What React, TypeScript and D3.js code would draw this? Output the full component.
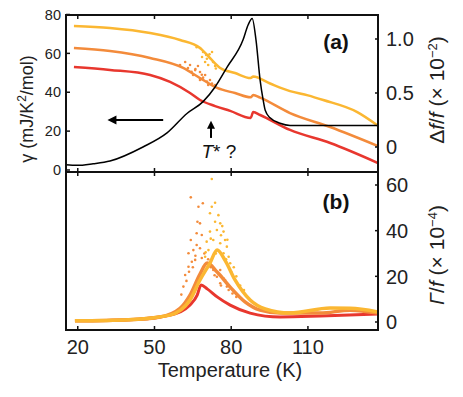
import React, { useEffect, useRef } from "react";
import * as d3 from "d3";

type Pt = [number, number];

// x axis
const xTicks = [20, 50, 80, 110];
// panel (a) left axis: gamma (mJ/K^2/mol)
const gammaTicks = [0, 20, 40, 60, 80];
// panel (a) right axis: delta f / f (x 10^-2)
const dfTicks = [0, 0.5, 1.0];
const dfTickLabels = ["0", "0.5", "1.0"];
// panel (b) right axis: Gamma / f (x 10^-4)
const gTicks = [0, 20, 40, 60];

// gamma(T) curves, three samples
const gammaYellow: Pt[] = [
  [18.5, 74.1], [32.6, 73.1], [48.3, 70.5], [60, 66.9], [67.8, 62.8], [71.7, 57.6],
  [75.7, 52.5], [81.5, 49.9], [87.6, 47.3], [88.6, 48.1], [95.2, 44.5], [103, 40.6],
  [110, 38.4], [116, 36], [129.3, 29.8], [137.4, 22.8],
];
const gammaOrange: Pt[] = [
  [18.5, 62.8], [32.6, 61.2], [48.3, 57.6], [61.2, 52.5], [67.8, 47.3], [74.5, 42.2],
  [81.5, 39.6], [87.6, 37.4], [88.6, 38.6], [91.3, 37.2], [103, 29.3], [118.7, 22.1],
  [137.4, 12.3],
];
const gammaRed: Pt[] = [
  [18.5, 53], [32.6, 51.5], [48.3, 48.9], [56.1, 45.3], [63.9, 39.6], [67.8, 36],
  [73.7, 32.9], [79.6, 30.4], [87.6, 26.8], [88.6, 29.8], [91.3, 28.3], [103, 20.6],
  [118.7, 13.9], [137.4, 3.6],
];
// noisy points around the transition in panel (a)
const gammaYellowDots: Pt[] = [
  [67.8, 62.8], [69, 60.7], [70.2, 59.2], [71.7, 57.6], [72.9, 55.6], [69.8, 55.6],
  [71, 54], [73.7, 53.5], [68.6, 58.1], [72.5, 60.7], [66.5, 63.2], [70.5, 57.2],
  [74, 52.2], [71.5, 59.5],
];
const gammaOrangeDots: Pt[] = [
  [62, 55.6], [63.9, 54], [65.9, 51.4], [67.8, 50.4], [69.8, 48.9], [71.7, 46.3],
  [65.1, 48.9], [67.8, 46.3], [71, 43.7], [63.1, 52.5], [73.7, 43.7], [67, 53.5],
  [60, 54], [64.5, 50.5], [66, 52], [68.5, 49], [70.5, 45.5], [72.5, 44.5], [69, 47.5],
];
// delta f / f
const dfBlack: Pt[] = [
  [15.4, -0.165], [19.7, -0.17], [26, -0.155], [32.6, -0.13], [45.5, 0], [54.9, 0.13],
  [62.7, 0.31], [69, 0.42], [73.7, 0.556], [78.4, 0.74], [84.6, 0.99], [86.6, 1.13],
  [88.2, 1.19], [89.7, 0.99], [91.3, 0.62], [92.5, 0.435], [93.3, 0.34], [95.2, 0.27],
  [99.1, 0.22], [103, 0.2], [137.4, 0.2],
];
// Gamma / f curves
const gYellow: Pt[] = [
  [18.9, 0.5], [40, 1], [56.1, 3], [63.9, 9.6], [67.8, 18.4], [71.7, 25.8], [74.5, 31.5],
  [77.6, 27], [81.5, 18.4], [87.4, 9.6], [93.3, 5.7], [103, 3.9], [118.7, 6.1], [126.5, 6],
  [137.4, 4.4],
];
const gOrange: Pt[] = [
  [18.9, 0.5], [40, 1], [52.2, 2.2], [60, 6], [63.9, 11.8], [67.8, 21], [70.6, 25.8],
  [74.5, 21.9], [79.6, 15.3], [85.4, 8.8], [91.3, 5.2], [99.1, 3.9], [114.8, 3.9],
  [126.5, 5.2], [137.4, 3.9],
];
const gRed: Pt[] = [
  [18.9, 0.5], [40, 1], [52.2, 2.2], [60, 4.4], [63.9, 7.4], [66.7, 11.8], [68.2, 16.2],
  [70.6, 14.5], [74.5, 11], [79.6, 7.4], [87.4, 3.9], [99.1, 2.2], [114.8, 2.6],
  [137.4, 3.5],
];
const gOrangeDots: Pt[] = [
  [64.2, 54.6], [67.2, 50.5], [68.9, 52], [66.8, 43.9], [67.8, 43.2], [64.2, 35.9],
  [66.5, 38.9], [68.5, 38.1], [63.3, 30.1], [65.2, 31.5], [66.5, 33.7], [67.8, 32.3],
  [63.3, 24.2], [64.6, 26.4], [65.9, 27.2], [74.4, 19.8], [75.7, 22.8], [77, 19.1],
  [73, 22.8], [62, 20.6], [61.3, 15.5], [75.7, 17], [78.3, 15.5], [77.6, 18.4],
  [62.5, 18], [63.5, 22], [65, 24], [66, 29], [68.5, 28], [69.5, 30], [71, 27.5],
  [72, 24], [73.5, 20.5], [76, 16], [79, 14], [80.5, 12.5], [82, 11], [60.5, 12],
];
const gYellowDots: Pt[] = [
  [72.4, 62.6], [73.7, 52.2], [72.4, 50.5], [71.7, 47.6], [75, 46.8], [73.7, 43.9],
  [75.7, 43.2], [71.7, 39.6], [74.4, 40.3], [77, 39.6], [77.6, 35.9], [70.4, 35.2],
  [73, 35.9], [75.7, 34.5], [78.3, 33], [71.1, 31.5], [77, 30.1], [79, 28.6],
  [79.6, 25.7], [69.8, 28.6], [70, 30.5], [72, 36.5], [74, 30], [76, 38], [78, 27.5],
  [80, 22], [81, 24], [82, 20], [83.5, 16], [85, 14], [76.5, 42], [78.5, 36],
];

const YELLOW = "#fbb732";
const ORANGE = "#f38b3b";
const RED = "#e8372e";
const FONT = "'Liberation Sans', Arial, sans-serif";

export default function App() {
  const ref = useRef<SVGSVGElement>(null);

  useEffect(() => {
    const svg = d3.select(ref.current);
    svg.selectAll("*").remove();

    const left = 66, right = 378, top = 15, mid = 172, bottom = 330;

    const x = d3.scaleLinear().domain([15.4, 137.4]).range([left, right]);
    const yGamma = d3.scaleLinear().domain([0, 80]).range([170, 14.5]);
    const yDf = d3.scaleLinear().domain([0, 1]).range([147, 39]);
    const yG = d3.scaleLinear().domain([0, 60]).range([322, 185]);

    const defs = svg.append("defs");
    defs.append("clipPath").attr("id", "clipA")
      .append("rect").attr("x", left).attr("y", top).attr("width", right - left).attr("height", mid - top);
    defs.append("clipPath").attr("id", "clipB")
      .append("rect").attr("x", left).attr("y", mid).attr("width", right - left).attr("height", bottom - mid);

    const gA = svg.append("g").attr("clip-path", "url(#clipA)");
    const gB = svg.append("g").attr("clip-path", "url(#clipB)");

    const drawLine = (g: any, data: Pt[], ys: any, color: string, w: number) => {
      const line = d3.line<Pt>()
        .x((d) => x(d[0]))
        .y((d) => ys(d[1]))
        .curve(d3.curveMonotoneX);
      g.append("path")
        .datum(data)
        .attr("d", line)
        .attr("fill", "none")
        .attr("stroke", color)
        .attr("stroke-width", w)
        .attr("stroke-linejoin", "round");
    };
    const drawDots = (g: any, data: Pt[], ys: any, color: string) => {
      g.selectAll(null)
        .data(data)
        .enter()
        .append("circle")
        .attr("cx", (d: Pt) => x(d[0]))
        .attr("cy", (d: Pt) => ys(d[1]))
        .attr("r", 1.3)
        .attr("fill", color);
    };

    // panel (a)
    drawLine(gA, gammaYellow, yGamma, YELLOW, 2.5);
    drawLine(gA, gammaOrange, yGamma, ORANGE, 2.5);
    drawLine(gA, gammaRed, yGamma, RED, 2.5);
    drawDots(gA, gammaYellowDots, yGamma, YELLOW);
    drawDots(gA, gammaOrangeDots, yGamma, ORANGE);
    drawLine(gA, dfBlack, yDf, "#000", 1.5);

    // panel (b)
    drawLine(gB, gRed, yG, RED, 3);
    drawLine(gB, gOrange, yG, ORANGE, 3.5);
    drawLine(gB, gYellow, yG, YELLOW, 3.5);
    drawDots(gB, gOrangeDots, yG, ORANGE);
    drawDots(gB, gYellowDots, yG, YELLOW);

    // frames
    const frame = svg.append("g").attr("fill", "none").attr("stroke", "#111").attr("stroke-width", 2);
    frame.append("rect").attr("x", left).attr("y", top).attr("width", right - left).attr("height", mid - top);
    frame.append("rect").attr("x", left).attr("y", mid).attr("width", right - left).attr("height", bottom - mid);

    // ticks
    const tk = svg.append("g").attr("stroke", "#111").attr("stroke-width", 1.5);
    xTicks.forEach((t) => {
      const px = x(t);
      tk.append("line").attr("x1", px).attr("x2", px).attr("y1", top).attr("y2", top + 4);
      tk.append("line").attr("x1", px).attr("x2", px).attr("y1", mid - 4).attr("y2", mid + 4);
      tk.append("line").attr("x1", px).attr("x2", px).attr("y1", bottom - 4).attr("y2", bottom);
    });
    gammaTicks.forEach((t) => {
      tk.append("line").attr("x1", left).attr("x2", left + 4).attr("y1", yGamma(t)).attr("y2", yGamma(t));
    });
    dfTicks.forEach((t) => {
      tk.append("line").attr("x1", right - 3).attr("x2", right).attr("y1", yDf(t)).attr("y2", yDf(t));
    });
    gTicks.forEach((t) => {
      tk.append("line").attr("x1", right - 3).attr("x2", right).attr("y1", yG(t)).attr("y2", yG(t));
    });

    // tick labels
    const txt = svg.append("g").attr("font-family", FONT).attr("fill", "#222");
    xTicks.forEach((t) => {
      txt.append("text").attr("x", x(t)).attr("y", 354).attr("text-anchor", "middle")
        .attr("font-size", 20).text(t);
    });
    gammaTicks.forEach((t) => {
      txt.append("text").attr("x", 61).attr("y", yGamma(t)).attr("dy", "0.36em")
        .attr("text-anchor", "end").attr("font-size", 14.5).text(t);
    });
    dfTicks.forEach((t, i) => {
      txt.append("text").attr("x", 386).attr("y", yDf(t)).attr("dy", "0.36em")
        .attr("font-size", 20).text(dfTickLabels[i]);
    });
    gTicks.forEach((t) => {
      txt.append("text").attr("x", 386).attr("y", yG(t)).attr("dy", "0.36em")
        .attr("font-size", 20).text(t);
    });

    // axis titles
    txt.append("text").attr("x", 230).attr("y", 377).attr("text-anchor", "middle")
      .attr("font-size", 20).text("Temperature (K)");

    const yl = txt.append("text").attr("transform", "translate(33,109) rotate(-90)")
      .attr("text-anchor", "middle").attr("font-size", 18);
    yl.append("tspan").text("γ (mJ/K");
    yl.append("tspan").attr("baseline-shift", "super").attr("font-size", 12).text("2");
    yl.append("tspan").text("/mol)");

    const r1 = txt.append("text").attr("transform", "translate(444,90) rotate(-90)")
      .attr("text-anchor", "middle").attr("font-size", 21);
    r1.append("tspan").text("Δ");
    r1.append("tspan").attr("font-style", "italic").text("f");
    r1.append("tspan").text("/");
    r1.append("tspan").attr("font-style", "italic").text("f");
    r1.append("tspan").text(" (× 10");
    r1.append("tspan").attr("baseline-shift", "super").attr("font-size", 13).text("−2");
    r1.append("tspan").text(")");

    const r2 = txt.append("text").attr("transform", "translate(444,255) rotate(-90)")
      .attr("text-anchor", "middle").attr("font-size", 21);
    r2.append("tspan").attr("font-style", "italic").text("Γ");
    r2.append("tspan").text("/");
    r2.append("tspan").attr("font-style", "italic").text("f");
    r2.append("tspan").text(" (× 10");
    r2.append("tspan").attr("baseline-shift", "super").attr("font-size", 13).text("−4");
    r2.append("tspan").text(")");

    // panel letters
    txt.append("text").attr("x", 336).attr("y", 49).attr("text-anchor", "middle")
      .attr("font-size", 21).attr("font-weight", "bold").attr("fill", "#111").text("(a)");
    txt.append("text").attr("x", 336).attr("y", 209).attr("text-anchor", "middle")
      .attr("font-size", 21).attr("font-weight", "bold").attr("fill", "#111").text("(b)");

    // annotations: arrow toward left axis, T* marker
    const ann = svg.append("g").attr("stroke", "#000").attr("fill", "#000");
    const ay = yGamma(25.7);
    ann.append("line").attr("x1", x(53.4)).attr("x2", x(32.8)).attr("y1", ay).attr("y2", ay).attr("stroke-width", 2);
    ann.append("path").attr("stroke", "none")
      .attr("d", `M${x(31.6)},${ay} l9,-4.5 l0,9 Z`);
    const ax = x(72.1);
    ann.append("line").attr("x1", ax).attr("x2", ax).attr("y1", yGamma(16.5)).attr("y2", yGamma(23.5)).attr("stroke-width", 2);
    ann.append("path").attr("stroke", "none")
      .attr("d", `M${ax},${yGamma(25.4)} l-4,8 l8,0 Z`);

    const ts = txt.append("text").attr("x", x(75.2)).attr("y", 158).attr("text-anchor", "middle")
      .attr("font-size", 19).attr("fill", "#111");
    ts.append("tspan").attr("font-style", "italic").text("T");
    ts.append("tspan").text("* ?");
  }, []);

  return (
    <svg
      ref={ref}
      width={463}
      height={397}
      style={{ position: "absolute", left: 0, top: 0, background: "#fff" }}
    />
  );
}
